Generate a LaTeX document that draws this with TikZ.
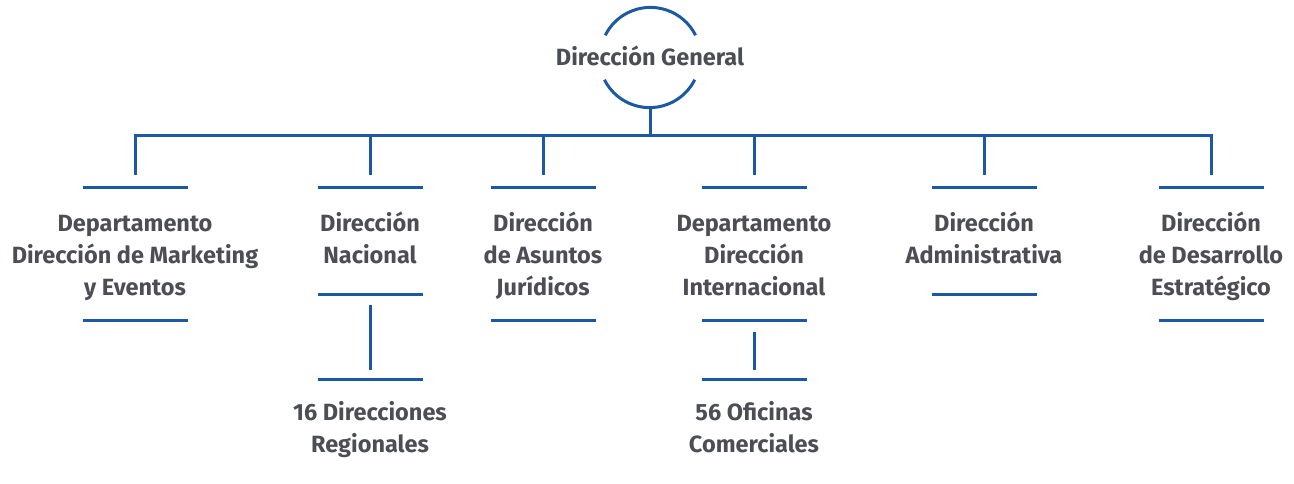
\documentclass[tikz,border=0pt]{standalone}
\usepackage{fontspec}
\setmainfont{Fira Sans}
\usepackage{xcolor}
\usepackage{tikz}
\usetikzlibrary{positioning}
\definecolor{dirblue}{HTML}{1C59A3}
\definecolor{dirgray}{HTML}{4B4F55}
\newcommand\linestrut[1]{\rule[-6pt]{0pt}{#1}}

\begin{document}
\begin{tikzpicture}[x=1pt,y=1pt,
 rule/.style={draw=dirblue, line width=3pt},
 unit/.style={font=\bfseries\fontsize{23.5}{32}\selectfont, text=dirgray, align=center, inner sep=0pt, minimum width=105pt,
   execute at begin node=\linestrut{#1}, execute at end node=\linestrut{28pt}},
 unit/.default=0pt,
 tall/.style={unit=95pt, minimum height=132pt},
 short/.style={unit=0pt, minimum height=106pt},
 sub/.style={unit=59pt, minimum height=98pt}]
\useasboundingbox (0,0) rectangle (1294,-483);
\node[circle, minimum size=101pt, inner sep=0pt] (ring) at (650,-57.5) {};
\node[unit] (gen) at (ring.center) {Dirección General};
\node[tall] (b1) at (135,-254) {Departamento\\Dirección de Marketing\\y Eventos};
\node[short] (b2) at (370,-241) {Dirección\\Nacional};
\node[tall] (b3) at (543,-254) {Dirección\\de Asuntos\\Jurídicos};
\node[tall] (b4) at (754,-254) {Departamento\\Dirección\\Internacional};
\node[short] (b5) at (984,-241) {Dirección\\Administrativa};
\node[tall] (b6) at (1211,-254) {Dirección\\de Desarrollo\\Estratégico};
\node[sub] (s2) at (370,-429) {16 Direcciones\\Regionales};
\node[sub] (s4) at (754,-429) {56 Oficinas\\Comerciales};
\coordinate (bus) at (650,-135);
% ring round the head
\draw[rule] (ring.26.6) arc[start angle=26.6, end angle=153.4, radius=50.5];
\draw[rule] (ring.206.6) arc[start angle=206.6, end angle=333.4, radius=50.5];
\draw[rule] (ring.south) -- (bus);
% bus and drops
\draw[rule] ([yshift=13pt]b1.north) |- (bus) -| ([yshift=13pt]b6.north);
\foreach \b in {b2,b3,b4,b5}
  \draw[rule, shorten >=13pt] (\b.north |- bus) -- (\b.north);
\foreach \b in {b1,b2,b3,b4,b5,b6}
  \draw[rule] ([xshift=-52.5pt]\b.north) -- ([xshift=52.5pt]\b.north)
    ([xshift=-52.5pt]\b.south) -- ([xshift=52.5pt]\b.south);
% lower levels
\draw[rule, shorten <=11pt, shorten >=10pt] (b2.south) -- (s2.north);
\draw[rule, shorten <=12pt, shorten >=10pt] (b4.south) -- (s4.north);
\foreach \s in {s2,s4}
  \draw[rule] ([xshift=-52.5pt]\s.north) -- ([xshift=52.5pt]\s.north);
\end{tikzpicture}
\end{document}
